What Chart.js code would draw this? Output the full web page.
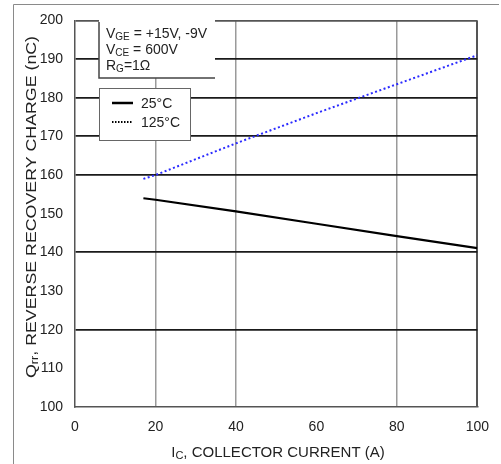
<!DOCTYPE html>
<html>
<head>
<meta charset="utf-8">
<script src="https://cdn.jsdelivr.net/npm/chart.js@4/dist/chart.umd.min.js"></script>
<style>
  html, body { margin: 0; padding: 0; background: #fff; }
  #qrrChart { display: block; }
</style>
</head>
<body>
<canvas id="qrrChart" width="501" height="464"></canvas>
<script>
// ─── Data ───────────────────────────────────────────────────────────────────
const currents = [17, 20, 40, 60, 80, 100];
const qrr25 = [154, 153.6, 150.6, 147.4, 144.2, 141.1];
const qrr125 = [159, 160, 168.2, 176, 183.5, 191];
const seriesLabels = ['25°C', '125°C'];
const yTicks = [100, 110, 120, 130, 140, 150, 160, 170, 180, 190, 200];
const xTicks = [0, 20, 40, 60, 80, 100];
const darkRows = [120, 140, 160, 170, 180, 190];
const grayCols = [20, 40, 80];
const conditions = [
  ['V', 'GE', ' = +15V, -9V'],
  ['V', 'CE', ' = 600V'],
  ['R', 'G', '=1Ω'],
];

const FONT = '"Liberation Sans", Arial, sans-serif';
const toPts = ys => currents.map((x, i) => ({ x, y: ys[i] }));

// text with a small subscript part: [main, sub, rest]
function subText(ctx, parts, x, y, size) {
  const [a, s, b] = parts;
  ctx.font = `${size}px ${FONT}`;
  ctx.fillText(a, x, y);
  let cx = x + ctx.measureText(a).width;
  ctx.font = `${Math.round(size * 0.72)}px ${FONT}`;
  ctx.fillText(s, cx, y + 2);
  cx += ctx.measureText(s).width;
  ctx.font = `${size}px ${FONT}`;
  ctx.fillText(b, cx, y);
}
function subWidth(ctx, parts, size) {
  const [a, s, b] = parts;
  ctx.font = `${size}px ${FONT}`;
  let w = ctx.measureText(a).width + ctx.measureText(b).width;
  ctx.font = `${Math.round(size * 0.72)}px ${FONT}`;
  return w + ctx.measureText(s).width;
}

// ─── Decorations: frame, axis titles, note boxes ────────────────────────────
const decor = {
  id: 'decor',
  beforeDraw(chart) {
    const ctx = chart.ctx;
    ctx.save();
    ctx.fillStyle = '#fff';
    ctx.fillRect(0, 0, chart.width, chart.height);
    ctx.strokeStyle = '#8a8a8a';
    ctx.lineWidth = 1;
    ctx.beginPath();
    ctx.moveTo(13.5, 464); ctx.lineTo(13.5, 4.5); ctx.lineTo(499, 4.5);
    ctx.stroke();
    ctx.restore();
  },
  afterDraw(chart) {
    const ctx = chart.ctx;
    ctx.save();
    ctx.fillStyle = '#222';
    ctx.textBaseline = 'alphabetic';

    // x title
    const xt = ['I', 'C', ', COLLECTOR CURRENT (A)'];
    subText(ctx, xt, 278 - subWidth(ctx, xt, 15) / 2, 457, 15);

    // y title (rotated, a little stretched like the original)
    const yt = ['Q', 'rr', ', REVERSE RECOVERY CHARGE (nC)'];
    ctx.translate(36, 207);
    ctx.rotate(-Math.PI / 2);
    ctx.scale(1.27, 1);
    subText(ctx, yt, -subWidth(ctx, yt, 14) / 2, 0, 14);
    ctx.setTransform(1, 0, 0, 1, 0, 0);

    // conditions box
    ctx.fillStyle = '#fff';
    ctx.fillRect(99, 20, 116, 58);
    ctx.strokeStyle = '#444';
    ctx.lineWidth = 1.5;
    ctx.beginPath();
    ctx.moveTo(99, 22); ctx.lineTo(99, 78); ctx.lineTo(215, 78);
    ctx.stroke();
    ctx.fillStyle = '#222';
    conditions.forEach((c, i) => subText(ctx, c, 106, 38 + i * 16, 14));

    // legend box
    ctx.fillStyle = '#fff';
    ctx.fillRect(99, 88, 91, 52);
    ctx.strokeStyle = '#666';
    ctx.lineWidth = 1;
    ctx.strokeRect(99.5, 88.5, 91, 52);
    const ds = chart.data.datasets;
    [103, 122].forEach((y, i) => {
      ctx.strokeStyle = '#000';
      ctx.lineWidth = i === 0 ? 2.5 : 2;
      ctx.setLineDash(i === 0 ? [] : [1.5, 1.5]);
      ctx.beginPath();
      ctx.moveTo(112, y); ctx.lineTo(133, y);
      ctx.stroke();
      ctx.setLineDash([]);
      ctx.fillStyle = '#222';
      ctx.font = `14px ${FONT}`;
      ctx.fillText(ds[i].label, 141, y + 5);
    });
    ctx.restore();
  },
};

// ─── Chart ──────────────────────────────────────────────────────────────────
new Chart(document.getElementById('qrrChart'), {
  type: 'scatter',
  data: {
    datasets: [
      {
        label: seriesLabels[0],
        data: toPts(qrr25),
        showLine: true,
        borderColor: '#000',
        borderWidth: 2.2,
        pointRadius: 0,
        tension: 0,
      },
      {
        label: seriesLabels[1],
        data: toPts(qrr125),
        showLine: true,
        borderColor: '#2b2bff',
        borderWidth: 2,
        borderDash: [2, 2.5],
        pointRadius: 0,
        tension: 0,
      },
    ],
  },
  options: {
    responsive: false,
    animation: false,
    events: [],
    layout: { padding: { top: 13, right: 19, left: 0, bottom: 0 } },
    plugins: { legend: { display: false }, tooltip: { enabled: false } },
    scales: {
      x: {
        type: 'linear',
        min: 0,
        max: 100,
        afterFit: s => { s.height = 57; },
        afterBuildTicks: s => { s.ticks = xTicks.map(v => ({ value: v })); },
        ticks: { color: '#222', padding: 12, font: { family: FONT, size: 14 }, maxRotation: 0 },
        grid: {
          drawTicks: false,
          color: c => c.tick && grayCols.includes(c.tick.value) ? '#9a9a9a'
            : (c.tick && c.tick.value === 100 ? '#555' : 'rgba(0,0,0,0)'),
          lineWidth: c => c.tick && c.tick.value === 100 ? 2 : 1.5,
        },
        border: { color: '#555', width: 1.5 },
      },
      y: {
        min: 100,
        max: 200,
        afterFit: s => { s.width = 75; },
        afterBuildTicks: s => { s.ticks = yTicks.map(v => ({ value: v })); },
        ticks: { color: '#222', padding: 12, font: { family: FONT, size: 14 } },
        grid: {
          drawTicks: false,
          color: c => c.tick && darkRows.includes(c.tick.value) ? '#1a1a1a'
            : (c.tick && c.tick.value === 200 ? '#555' : 'rgba(0,0,0,0)'),
          lineWidth: 1.8,
        },
        border: { color: '#555', width: 1.5 },
      },
    },
  },
  plugins: [decor],
});
</script>
</body>
</html>
